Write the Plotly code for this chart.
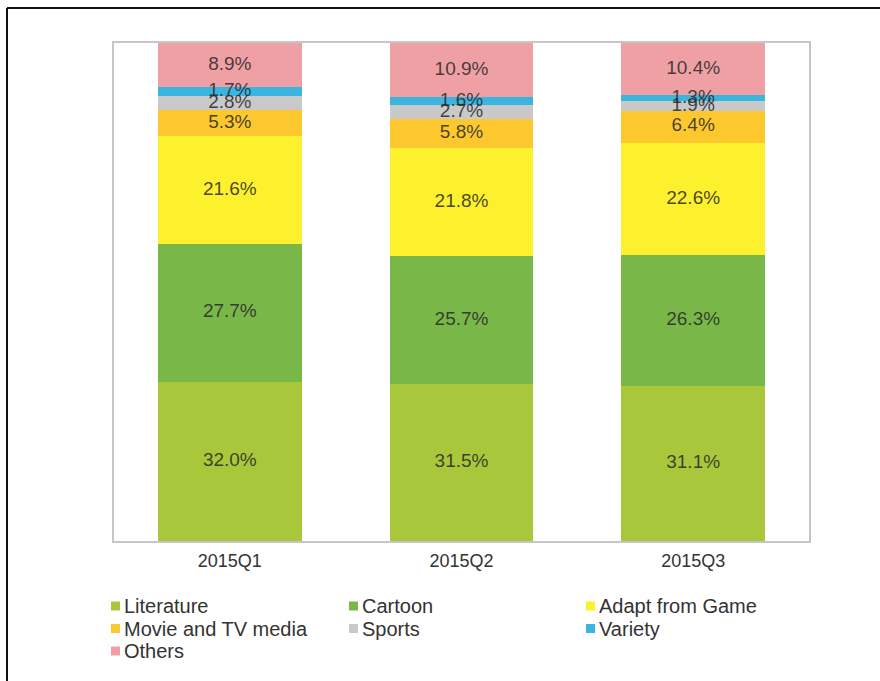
import plotly.graph_objects as go

quarters = ["2015Q1", "2015Q2", "2015Q3"]

# Share of each content source, bottom to top of each stacked column (%)
literature = [32.0, 31.5, 31.1]
cartoon = [27.7, 25.7, 26.3]
adapt_from_game = [21.6, 21.8, 22.6]
movie_tv = [5.3, 5.8, 6.4]
sports = [2.8, 2.7, 1.9]
variety = [1.7, 1.6, 1.3]
others = [8.9, 10.9, 10.4]

series_names = ["Literature", "Cartoon", "Adapt from Game", "Movie and TV media",
                "Sports", "Variety", "Others"]
series_values = [literature, cartoon, adapt_from_game, movie_tv, sports, variety, others]
series_colors = ["#a9c73a", "#79b748", "#fdf02c", "#fcc82e", "#c9c9c9", "#39b5e0", "#efa0a4"]

FONT = "Liberation Sans, Arial, sans-serif"

fig = go.Figure()

for name, vals, color in zip(series_names, series_values, series_colors):
    fig.add_trace(go.Bar(
        x=quarters, y=vals, name=name,
        marker=dict(color=color, line=dict(width=0)),
        hoverinfo="x+y+name", showlegend=False,
    ))

# Percentage labels centred on each segment
label_x, label_y, label_t = [], [], []
for qi, q in enumerate(quarters):
    base = 0.0
    for vals in series_values:
        v = vals[qi]
        label_x.append(q)
        label_y.append(base + v / 2)
        label_t.append(f"{v:.1f}%")
        base += v

fig.add_trace(go.Scatter(
    x=label_x, y=label_y, text=label_t, mode="text",
    textfont=dict(family=FONT, size=19, color="rgba(40,40,40,0.85)"),
    showlegend=False, hoverinfo="skip",
))

# Plot-area edges in page pixels, and helpers to convert to paper coordinates
L, R, T, B = 114, 809, 43, 541
W, H = R - L, B - T

def px_x(p):
    return (p - L) / W

def px_y(p):
    return (B - p) / H

# Outer frame: top and left edges of the page
fig.add_shape(type="line", xref="paper", yref="paper",
              x0=px_x(7), y0=px_y(8), x1=px_x(880), y1=px_y(8),
              line=dict(color="#111111", width=2))
fig.add_shape(type="line", xref="paper", yref="paper",
              x0=px_x(7), y0=px_y(8), x1=px_x(7), y1=px_y(681),
              line=dict(color="#111111", width=2))

# Legend: three columns, small square swatch followed by the series name
COL_X = [111, 349, 586]
ROW_Y0, ROW_STEP = 606, 22.5
SW = 9
for i, (name, color) in enumerate(zip(series_names, series_colors)):
    col, row = i % 3, i // 3
    cx = COL_X[col]
    cy = ROW_Y0 + ROW_STEP * row
    fig.add_shape(type="rect", xref="paper", yref="paper",
                  x0=px_x(cx), x1=px_x(cx + SW),
                  y0=px_y(cy + SW / 2), y1=px_y(cy - SW / 2),
                  fillcolor=color, line=dict(width=0))
    fig.add_annotation(xref="paper", yref="paper",
                       x=px_x(cx + SW + 2), y=px_y(cy),
                       xanchor="left", yanchor="middle",
                       text=name, showarrow=False,
                       font=dict(family=FONT, size=20, color="#333333"))

fig.update_layout(
    width=880, height=681,
    margin=dict(l=L, r=880 - R, t=T, b=681 - B),
    paper_bgcolor="white", plot_bgcolor="white",
    barmode="stack", bargap=0.38,
    font=dict(family=FONT, color="#333333"),
    xaxis=dict(
        showline=True, mirror=True, linecolor="#c6c6c6", linewidth=2,
        ticks="", showgrid=False, zeroline=False,
        tickfont=dict(family=FONT, size=18, color="#333333"),
        ticklabelstandoff=2,
    ),
    yaxis=dict(
        range=[0, 100], showline=True, mirror=True, linecolor="#c6c6c6", linewidth=2,
        ticks="", showticklabels=False, showgrid=False, zeroline=False,
    ),
    showlegend=False,
)

fig.write_html("out.html")
